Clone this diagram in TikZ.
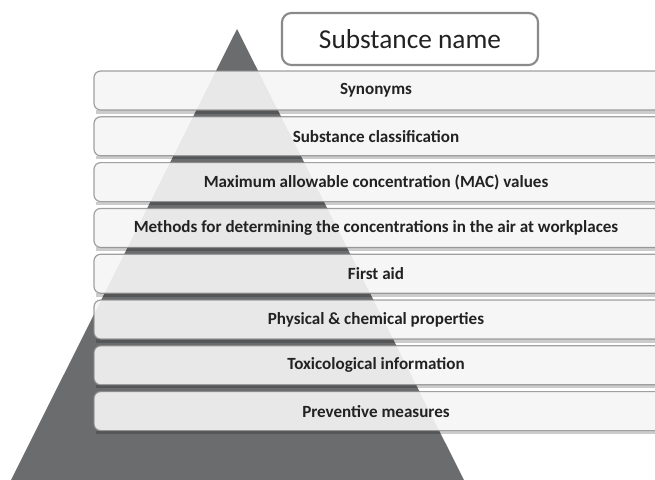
\documentclass[tikz,border=0pt]{standalone}
\usepackage{fontspec}
\setmainfont{Carlito}
\usetikzlibrary{calc}

\definecolor{pyrgray}{HTML}{6B6C6E}
\definecolor{barfill}{HTML}{F6F6F6}
\definecolor{barline}{HTML}{8A8A8A}
\definecolor{inktext}{HTML}{222222}

\tikzset{
  barbox/.style={rounded corners=5pt,fill=barfill,fill opacity=0.9,draw=barline,draw opacity=0.8,line width=0.9pt},
  barshadow/.style={fill=black,fill opacity=0.2},
  bartext/.style={font=\fontsize{12.8}{15}\selectfont\bfseries,text=inktext},
  namebox/.style={rounded corners=7pt,fill=white,draw=barline,line width=1.6pt},
}

\begin{document}
\begin{tikzpicture}[x=0.75pt,y=-0.75pt]
  \useasboundingbox (0,0) rectangle (655,479);
  \clip (0,0) rectangle (655,479);
  \fill[white] (0,0) rectangle (655,479);
  % pyramid behind the bars
  \fill[pyrgray] (237,29) -- (465,482) -- (10,482) -- cycle;
  % title box
  \draw[namebox] (282,13) rectangle (538,65);
  \node[font=\fontsize{20.5}{24}\selectfont,text=inktext] (title) at (410,39) {Substance name};
  % bars
  \foreach \lbl [count=\i from 0] in {Synonyms,Substance classification,
      Maximum allowable concentration (MAC) values,
      Methods for determining the concentrations in the air at workplaces,
      First aid,Physical \& chemical properties,Toxicological information,
      Preventive measures}{
    \fill[barshadow] (96,110+45.8*\i) rectangle (690,113.5+45.8*\i);
    \draw[barbox] (94,71+45.8*\i) rectangle (690,110+45.8*\i);
    \node[bartext] (bar\i) at (376,90.5+45.8*\i) {\lbl};
  }
\end{tikzpicture}
\end{document}
